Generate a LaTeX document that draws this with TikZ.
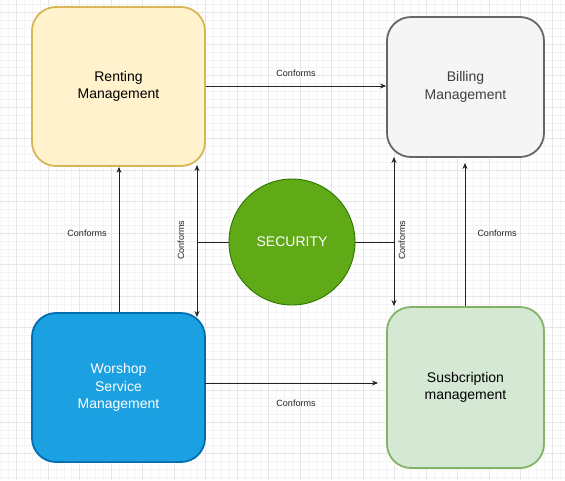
\documentclass[tikz,border=0pt]{standalone}
\usepackage{fontspec}
\setmainfont{Liberation Sans}
\usetikzlibrary{arrows.meta,positioning}
\definecolor{rentfill}{HTML}{FFF2CC}
\definecolor{rentdraw}{HTML}{D6B656}
\definecolor{billfill}{HTML}{F5F5F5}
\definecolor{billdraw}{HTML}{666666}
\definecolor{workfill}{HTML}{1BA1E2}
\definecolor{workdraw}{HTML}{006EAF}
\definecolor{subfill}{HTML}{D5E8D4}
\definecolor{subdraw}{HTML}{82B366}
\definecolor{secfill}{HTML}{60A917}
\definecolor{secdraw}{HTML}{2D7600}
\definecolor{minorgrid}{HTML}{F4F4F4}
\definecolor{majorgrid}{HTML}{E6E6E6}
\definecolor{edgecol}{HTML}{222222}
\tikzset{
  boxnode/.style={rectangle, rounded corners=24pt, line width=1.8pt, align=center,
    font=\fontsize{14}{17.5}\selectfont, inner sep=0pt},
  secnode/.style={circle, line width=0.9pt, draw=secdraw, fill=secfill, text=white,
    font=\fontsize{14}{17}\selectfont, minimum size=126pt, inner sep=0pt},
  conn/.style={draw=edgecol, line width=0.8pt, -{Stealth[length=6pt,width=5pt]}},
  bconn/.style={draw=edgecol, line width=0.8pt, {Stealth[length=6pt,width=5pt]}-{Stealth[length=6pt,width=5pt]}},
  plainconn/.style={draw=edgecol, line width=0.8pt},
  lbl/.style={font=\fontsize{9}{10}\selectfont, text=edgecol, inner sep=0pt},
  minorline/.style={draw=minorgrid, line width=0.5pt},
  majorline/.style={draw=majorgrid, line width=0.7pt}
}
\begin{document}
\begin{tikzpicture}[x=1pt,y=-1pt]
\useasboundingbox (0,0) rectangle (565,480);
\fill[white] (0,0) rectangle (565,480);
% grid
\foreach \i in {0,...,72} {\draw[minorline] ({0.75+\i*7.875},0) -- ({0.75+\i*7.875},480);}
\foreach \i in {0,...,61} {\draw[minorline] (0,{4.625+\i*7.875}) -- (565,{4.625+\i*7.875});}
\foreach \i in {0,...,17} {\draw[majorline] ({16.5+\i*31.5},0) -- ({16.5+\i*31.5},480);}
\foreach \i in {0,...,15} {\draw[majorline] (0,{12.5+\i*31.5}) -- (565,{12.5+\i*31.5});}

% nodes
\node[boxnode, draw=rentdraw, fill=rentfill, minimum width=173pt, minimum height=159pt] (rent) at (118.5,86.5) {Renting\\Management};
\node[boxnode, draw=billdraw, fill=billfill, text=black!75, minimum width=157pt, minimum height=140pt] (bill) at (465.5,87) {Billing\\Management};
\node[boxnode, draw=workdraw, fill=workfill, text=white, minimum width=173pt, minimum height=149pt] (work) at (118.5,387.5) {Worshop\\Service\\Management};
\node[boxnode, draw=subdraw, fill=subfill, minimum width=157pt, minimum height=161pt] (sub) at (465.5,387.5) {Susbcription\\management};
\node[secnode] (sec) at (292,242) {SECURITY};

% helper coordinates
\coordinate (lt) at (197,165);
\coordinate (lb) at (197,317);
\coordinate (lm) at (197,242);
\coordinate (rt) at (394,157);
\coordinate (rb) at (394,306);
\coordinate (rm) at (394,242);
\coordinate (sbt) at (465,163);
\coordinate (wsend) at (378,383);
\coordinate (wsstart) at (205,383);

% connectors
\draw[conn] (rent.east |- 0,86) -- (bill.west |- 0,86) node[lbl, midway, above=9pt] {Conforms};
\draw[conn] (wsstart) -- (wsend);
\node[lbl] (lblws) at (296,403) {Conforms};
\draw[conn] (work.north -| 119,0) -- (rent.south -| 119,0);
\node[lbl] (lblwr) at (87,233) {Conforms};
\draw[conn] (sub.north -| 465,0) -- (sbt);
\node[lbl] (lblsb) at (497,233) {Conforms};
\draw[bconn] (lt) -- (lb);
\draw[plainconn] (lm) -- (sec.west);
\node[lbl, rotate=90] (lbll) at (181,240) {Conforms};
\draw[bconn] (rt) -- (rb);
\draw[plainconn] (sec.east) -- (rm);
\node[lbl, rotate=90] (lblr) at (402,240) {Conforms};
\end{tikzpicture}
\end{document}
